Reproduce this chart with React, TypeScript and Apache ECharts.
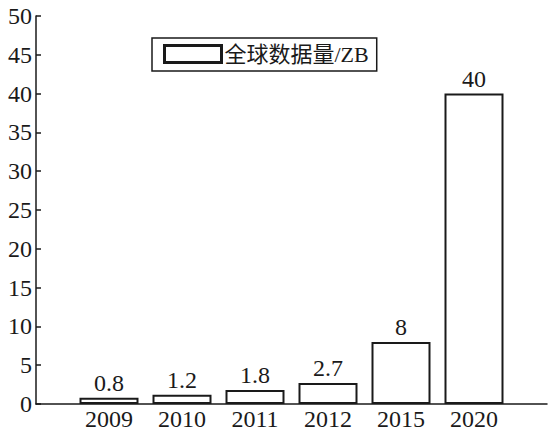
import React, { useEffect, useRef } from "react";
import * as echarts from "echarts";

const categories = ["", "2009", "2010", "2011", "2012", "2015", "2020", ""];
const values: (number | null)[] = [null, 0.8, 1.2, 1.8, 2.7, 8, 40, null];
const seriesName = "全球数据量/ZB";
const yTicks = { min: 0, max: 50, interval: 5 };

const FONT = "Liberation Serif, Noto Sans CJK SC, serif";
const INK = "#1a1a1a";

export default function App() {
  const ref = useRef<HTMLDivElement>(null);
  useEffect(() => {
    if (!ref.current) return;
    const chart = echarts.init(ref.current, null, { renderer: "svg" });
    chart.setOption({
      animation: false,
      backgroundColor: "#ffffff",
      textStyle: { fontFamily: FONT, color: INK },
      grid: { left: 36, right: 0, top: 16, bottom: 23, containLabel: false },
      legend: {
        left: 152,
        top: 38,
        orient: "horizontal",
        padding: [5, 8, 6, 11],
        borderColor: INK,
        borderWidth: 1.5,
        itemWidth: 57,
        itemHeight: 17,
        itemGap: 3,
        icon: "rect",
        itemStyle: { color: "#ffffff", borderColor: INK, borderWidth: 3 },
        textStyle: { fontFamily: FONT, fontSize: 22, color: INK, padding: [0, 0, 0, -2] },
        data: [seriesName],
      },
      xAxis: {
        type: "category",
        data: categories,
        boundaryGap: false,
        axisLine: { lineStyle: { color: INK, width: 1.5 } },
        axisTick: { show: false },
        axisLabel: {
          interval: 0,
          margin: 3,
          fontSize: 24,
          fontFamily: FONT,
          color: INK,
        },
        splitLine: { show: false },
      },
      yAxis: {
        type: "value",
        min: yTicks.min,
        max: yTicks.max,
        interval: yTicks.interval,
        axisLine: { show: true, lineStyle: { color: INK, width: 1.5 } },
        axisTick: { show: true, inside: true, length: 5, lineStyle: { color: INK, width: 1.5 } },
        axisLabel: { margin: 4, fontSize: 24, fontFamily: FONT, color: INK },
        splitLine: { show: false },
      },
      series: [
        {
          name: seriesName,
          type: "bar",
          data: values,
          barWidth: 59,
          itemStyle: { color: "#ffffff", borderColor: INK, borderWidth: 2 },
          label: {
            show: true,
            position: "top",
            distance: 3,
            fontSize: 24,
            fontFamily: FONT,
            color: INK,
          },
        },
      ],
    });
    return () => chart.dispose();
  }, []);
  return (
    <div
      ref={ref}
      style={{ position: "absolute", left: 0, top: 0, width: 550, height: 431 }}
    />
  );
}
